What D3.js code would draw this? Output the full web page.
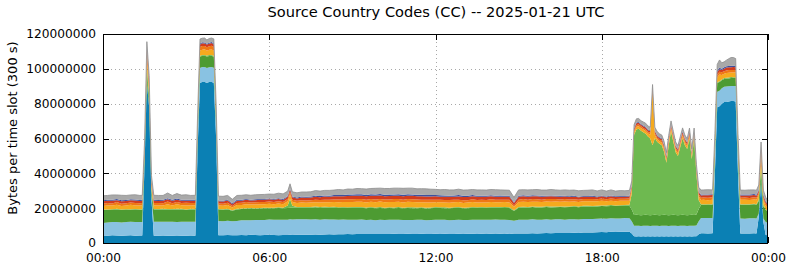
<!DOCTYPE html>
<html>
<head>
<meta charset="utf-8">
<script src="https://cdn.jsdelivr.net/npm/d3@7"></script>
<style>
  body { margin: 0; background: #fff; }
  svg { display: block; }
  text { font-family: "DejaVu Sans", sans-serif; }
</style>
</head>
<body>
<svg id="chart" width="790" height="267"></svg>
<script>
// time of each sample, minutes after 00:00 UTC
const slotMinutes = [
  0,10,20,30,40,50,60,70,80,
  85,90,95,100,105,110,
  120,130,140,150,160,170,180,190,200,
  205,210,215,220,225,230,235,240,245,250,
  260,270,280,290,300,310,320,330,340,350,360,370,380,390,
  400,405,410,
  420,430,440,450,460,470,480,490,500,510,
  520,530,540,550,560,570,580,590,600,610,
  620,630,640,650,660,670,680,690,700,710,
  720,730,740,750,760,770,780,790,800,810,
  820,830,840,850,860,870,880,890,900,910,
  920,930,940,950,960,970,980,990,1000,1010,
  1020,1030,1040,1050,1060,1070,1080,1090,1100,1110,
  1120,1130,1140,
  1145,1150,1155,1160,1165,1170,1175,1180,1185,1190,1195,1200,1205,1210,1215,
  1220,1225,1230,1235,1240,1245,1250,1255,1260,1265,1270,1275,1280,1285,1290,1295,
  1300,1310,1320,
  1325,1330,1335,1340,1345,1350,1355,1360,1365,1370,1375,
  1380,1390,1400,1410,1415,
  1420,1425,1430,1435,1440
];

// bytes per slot, in millions, bottom layer first
const ccDarkBlue = [
  4.3,4.2,4.4,4.3,4.2,4.3,4.4,4.2,4.3,
  4.3,45,92,78,25,4.2,
  4.2,4.3,4.1,4.2,4.3,4.2,4.1,4.3,4.2,
  55,92,92.5,92.5,92,92.5,92.5,92,60,4.4,
  4.5,4.6,4.5,4.4,4.6,4.5,4.7,4.6,4.5,4.6,4.7,4.6,4.5,4.6,
  4.6,4.7,4.6,
  4.7,4.8,4.7,4.8,4.9,4.8,4.9,5.0,4.9,5.0,
  5.0,5.1,5.0,5.1,5.2,5.1,5.2,5.1,5.2,5.2,
  5.2,5.3,5.2,5.2,5.3,5.2,5.2,5.3,5.2,5.2,
  5.3,5.2,5.3,5.2,5.2,5.3,5.2,5.3,5.3,5.2,
  5.3,5.4,5.3,5.4,5.3,5.4,5.2,5.4,5.5,5.4,
  5.5,5.6,5.5,5.6,5.7,5.6,5.7,5.8,5.7,5.8,
  5.9,5.8,6.0,6.1,6.0,6.2,6.3,6.2,6.4,6.3,
  6.4,6.5,6.5,
  5.5,3.9,3.8,3.9,3.8,3.9,3.8,3.9,3.8,3.9,3.8,3.9,3.8,3.9,3.8,
  3.9,3.8,3.9,3.8,3.9,3.8,3.9,3.8,3.9,3.8,3.9,3.8,3.9,3.9,5.0,5.6,
  5.6,5.5,5.6,
  40,78,78.5,80,81,81,81.2,81.5,81.5,81.3,40,
  5.5,5.4,5.5,5.6,5.5,
  15,35,12,4.6,4.5
];
const ccLightBlue = [
  7.2,7.5,7.6,7.8,7.6,7.7,7.8,7.9,7.8,
  7.8,2,1,1,2,8.0,
  8.0,7.9,8.1,8.0,7.8,8.0,8.1,7.9,8.0,
  6,8.5,8.5,8.6,8.5,8.4,8.5,8.6,6,8.2,
  8.0,8.2,8.0,8.3,8.4,8.5,8.4,8.6,8.7,8.6,8.8,8.7,8.9,8.8,
  8.8,8.9,8.9,
  8.9,8.8,8.9,8.7,8.8,8.6,8.7,8.5,8.6,8.4,
  8.5,8.3,8.4,8.2,8.3,8.1,8.2,8.0,8.1,8.0,
  8.1,8.0,8.1,8.0,7.9,8.0,8.1,8.0,7.9,8.0,
  8.0,8.1,8.0,7.9,8.0,8.1,8.0,7.9,8.0,8.1,
  8.0,7.9,8.0,8.1,8.0,7.9,8.0,7.4,7.9,8.0,
  7.9,8.0,7.9,7.8,7.9,7.8,7.9,7.8,7.7,7.8,
  7.8,7.7,7.8,7.7,7.8,7.7,7.8,7.7,7.8,7.7,
  7.7,7.8,7.7,
  7.0,6.0,6.1,6.0,5.9,6.0,6.1,6.0,5.9,6.0,6.1,6.0,5.9,6.0,6.1,
  6.0,5.9,6.0,6.1,6.0,5.9,6.0,6.1,6.0,5.9,6.0,6.1,6.0,6.1,7.5,8.7,
  8.7,8.8,8.7,
  8.5,8.8,8.9,8.8,8.7,8.8,8.8,8.7,8.7,8.8,8.5,
  8.6,8.5,8.7,8.6,8.5,
  2,1,2,7.5,7.0
];
const ccDarkGreen = [
  7.5,7.3,7.0,7.2,7.1,7.0,6.9,7.1,7.0,
  7.0,3,5,4,3,7.0,
  7.0,7.1,6.9,7.0,7.2,7.0,6.8,7.1,7.0,
  5,6.5,6.5,6.4,6.6,6.5,6.5,6.4,5,6.6,
  6.6,6.5,6.0,6.6,6.5,6.7,6.6,6.5,6.6,6.7,6.5,6.6,6.7,6.6,
  6.7,6.6,6.7,
  6.6,6.7,6.6,6.7,6.8,6.7,6.8,6.7,6.8,6.7,
  6.8,6.7,6.8,6.9,6.8,6.7,6.8,6.9,6.8,6.7,
  6.8,6.7,6.8,6.7,6.9,6.8,6.7,6.8,6.7,6.8,
  6.9,6.8,6.7,6.8,6.9,6.8,6.7,6.8,6.9,6.8,
  6.9,6.8,6.9,6.8,6.9,6.8,6.9,5.6,6.8,7.0,
  6.9,7.0,6.9,7.0,7.1,7.0,6.9,7.0,7.1,7.0,
  7.1,7.0,7.1,7.2,7.1,7.0,7.1,7.2,7.1,7.2,
  7.2,7.1,7.2,
  6.8,6.2,6.3,6.2,6.3,6.2,6.3,6.2,6.3,6.2,6.3,6.2,6.3,6.2,6.3,
  6.2,6.3,6.2,6.3,6.2,6.3,6.2,6.3,6.2,6.3,6.2,6.3,6.2,6.3,7.0,7.5,
  7.6,7.5,7.6,
  5.5,5.0,5.0,4.6,4.5,4.6,4.5,4.6,4.5,4.6,5.5,
  7.9,8.0,7.8,8.0,7.9,
  7,6,7,7,6.5
];
const ccLightGreen = [
  0.3,0.3,0.4,0.3,0.3,0.4,0.3,0.3,0.3,
  0.3,1,3,2,1,0.3,
  0.3,0.3,0.4,0.3,0.3,0.4,0.3,0.3,0.3,
  0.4,0.5,0.5,0.5,0.5,0.5,0.5,0.5,0.4,0.3,
  0.3,0.3,0.3,0.4,0.3,0.3,0.4,0.3,0.3,0.4,0.3,0.3,0.4,0.3,
  1.5,5.0,1.2,
  0.4,0.4,0.5,0.4,0.4,0.5,0.4,0.4,0.5,0.4,
  0.4,0.4,0.5,0.4,0.4,0.5,0.4,0.4,0.5,0.4,
  0.4,0.4,0.5,0.4,0.4,0.5,0.4,0.4,0.5,0.4,
  0.4,0.4,0.5,0.4,0.4,0.5,0.4,0.4,0.5,0.4,
  0.4,0.4,0.5,0.4,0.4,0.5,0.4,0.4,0.5,0.4,
  0.4,0.4,0.5,0.4,0.4,0.5,0.4,0.4,0.5,0.4,
  0.4,0.4,0.5,0.4,0.4,0.5,0.4,0.4,0.5,0.4,
  0.4,0.4,0.5,
  9,46,49,49.5,48.5,47.5,46.5,45,44,40,44,42,41,40,36,
  30,40,48,42,36,34,39,44,40,38,44,32,44,23,5,0.4,
  0.4,0.4,0.4,
  0.4,0.5,0.5,0.5,0.5,0.5,0.5,0.5,0.5,0.5,0.4,
  0.3,0.3,0.3,0.3,0.3,
  1,3,1,0.3,0.3
];
const ccYellow = [
  2.0,2.3,2.1,2.4,2.0,2.2,2.5,2.1,2.2,
  2.2,2,5,4,2,2.1,
  2.1,2.0,2.8,2.0,2.6,2.1,2.3,2.0,2.2,
  2.5,3,3,3.2,2.8,3,3.1,3,2.5,2.0,
  2.0,2.2,1.6,2.1,2.0,2.3,2.0,2.1,2.2,2.0,2.3,2.1,2.2,2.0,
  2.3,2.8,2.2,
  2.3,2.5,2.4,2.6,2.5,2.7,2.6,2.8,2.7,2.9,
  2.8,3.0,2.9,3.1,3.0,2.9,3.1,3.0,3.2,3.1,
  3.0,3.2,3.1,3.0,3.2,3.1,3.0,2.9,3.0,2.9,
  2.8,2.9,2.7,2.8,2.9,2.8,2.7,2.8,2.9,2.8,
  2.7,2.8,2.9,2.7,2.8,2.9,2.8,1.8,2.8,2.9,
  2.8,2.7,2.9,2.8,2.7,2.8,2.9,2.7,2.8,2.7,
  2.6,2.7,2.5,2.6,2.7,2.5,2.6,2.4,2.5,2.4,
  2.5,2.4,2.4,
  2.2,1.4,1.6,1.5,1.4,1.5,1.6,1.7,2.2,30.5,1.8,1.5,1.4,1.5,1.6,
  1.4,1.5,1.6,1.4,1.5,1.6,1.5,1.4,1.5,1.6,1.5,1.4,1.5,1.5,2.2,2.5,
  2.5,2.4,2.6,
  2.5,2.8,3.8,2.6,2.5,2.7,2.8,2.6,2.7,2.8,2.5,
  2.5,2.6,2.4,2.5,2.6,
  2.6,5,2.6,2.0,1.5
];
const ccOrange = [
  1.3,1.4,1.2,1.5,1.3,1.2,1.4,1.3,1.2,
  1.3,1.5,3,2,1.5,1.3,
  1.3,1.2,1.5,1.3,1.4,1.2,1.5,1.3,1.3,
  1.5,2,2.1,1.9,2,2,2.1,2,1.5,1.2,
  1.2,1.3,0.9,1.2,1.3,1.2,1.1,1.3,1.2,1.3,1.2,1.3,1.2,1.2,
  1.3,1.5,1.3,
  1.3,1.4,1.3,1.4,1.5,1.4,1.5,1.4,1.5,1.6,
  1.5,1.6,1.5,1.6,1.5,1.6,1.5,1.6,1.5,1.6,
  1.5,1.6,1.5,1.5,1.6,1.5,1.6,1.5,1.5,1.6,
  1.5,1.4,1.5,1.6,1.5,1.4,1.5,1.4,1.5,1.4,
  1.5,1.4,1.5,1.4,1.5,1.4,1.5,1.0,1.4,1.5,
  1.4,1.5,1.4,1.3,1.4,1.5,1.4,1.3,1.4,1.3,
  1.3,1.2,1.3,1.2,1.3,1.2,1.3,1.2,1.3,1.2,
  1.2,1.2,1.2,
  1.2,1.0,0.9,1.0,1.1,1.0,0.9,1.0,1.1,1.5,1.0,0.9,1.0,1.1,1.0,
  0.9,1.0,1.1,1.0,0.9,1.0,1.1,1.0,0.9,1.0,1.1,1.0,0.9,1.0,1.2,1.3,
  1.3,1.4,1.3,
  1.3,1.5,1.6,1.5,1.4,1.5,1.6,1.5,1.5,1.4,1.3,
  1.2,1.3,1.2,1.3,1.2,
  1.3,3,1.3,1.1,1.0
];
const ccRed = [
  1.3,1.2,1.5,1.1,1.4,1.3,1.2,1.5,1.3,
  1.3,1.2,2,1.5,1.2,1.3,
  1.2,1.4,1.3,1.5,1.3,1.4,1.2,1.3,1.2,
  1.3,1.5,1.6,1.4,1.5,1.5,1.6,1.5,1.3,1.2,
  1.2,1.3,1.0,1.3,1.2,1.3,1.2,1.2,1.3,1.2,1.3,1.2,1.3,1.2,
  1.3,1.4,1.3,
  1.4,1.5,1.6,1.5,1.7,1.6,1.8,1.7,1.8,1.9,
  1.8,1.9,2.0,1.9,2.0,1.9,2.0,2.1,2.0,1.9,
  2.0,1.9,2.0,2.1,1.9,2.0,1.9,2.0,1.9,1.8,
  1.9,1.8,1.9,1.8,1.7,1.8,1.9,1.8,1.7,1.8,
  1.7,1.8,1.7,1.8,1.7,1.6,1.7,1.3,1.7,1.6,
  1.7,1.6,1.7,1.6,1.5,1.6,1.5,1.6,1.5,1.4,
  1.5,1.4,1.3,1.4,1.3,1.2,1.3,1.2,1.3,1.2,
  1.2,1.2,1.2,
  1.1,1.0,1.1,1.0,0.9,1.0,1.1,1.0,0.9,1.0,1.1,1.0,0.9,1.0,1.1,
  1.0,0.9,1.0,1.1,1.0,0.9,1.0,1.1,1.0,0.9,1.0,1.1,1.0,1.0,1.2,1.3,
  1.3,1.4,1.3,
  1.3,1.6,1.5,1.4,1.5,1.6,1.5,1.5,1.6,1.5,1.3,
  1.3,1.2,1.4,1.3,1.2,
  1.3,2,1.3,1.1,1.0
];
const ccNavy = [
  0.6,0.6,0.6,0.6,0.6,0.6,0.6,0.6,0.6,
  0.6,0.5,0.6,0.5,0.5,0.6,
  0.6,0.6,0.6,0.6,0.6,0.6,0.6,0.6,0.6,
  0.5,0.6,0.6,0.6,0.5,0.6,0.6,0.6,0.5,0.5,
  0.5,0.5,0.5,0.5,0.5,0.5,0.5,0.5,0.5,0.5,0.5,0.5,0.5,0.5,
  0.5,0.5,0.5,
  0.5,0.6,0.5,0.6,0.6,0.7,0.6,0.7,0.7,0.7,
  0.7,0.8,0.7,0.8,0.8,0.8,0.8,0.8,0.8,0.8,
  0.8,0.8,0.8,0.8,0.8,0.8,0.8,0.8,0.8,0.8,
  0.7,0.8,0.7,0.7,0.7,0.8,0.7,0.7,0.7,0.7,
  0.6,0.7,0.6,0.6,0.7,0.6,0.6,0.5,0.6,0.6,
  0.6,0.6,0.5,0.6,0.5,0.5,0.5,0.5,0.5,0.5,
  0.5,0.4,0.5,0.4,0.5,0.4,0.4,0.4,0.4,0.4,
  0.4,0.4,0.4,
  0.4,0.4,0.4,0.4,0.4,0.4,0.4,0.4,0.4,0.4,0.4,0.4,0.4,0.4,0.4,
  0.4,0.4,0.4,0.4,0.4,0.4,0.4,0.4,0.4,0.4,0.4,0.4,0.4,0.4,0.4,0.5,
  0.5,0.5,0.5,
  0.5,0.8,0.8,0.7,0.8,0.8,0.7,0.8,0.8,0.7,0.5,
  0.5,0.5,0.5,0.5,0.5,
  0.5,0.5,0.5,0.5,0.5
];
const ccGray = [
  2.6,2.5,2.8,2.4,2.9,2.6,2.5,2.7,2.6,
  2.6,2.5,4,3,2.5,2.6,
  2.6,2.5,3.0,2.4,2.9,2.6,2.8,2.5,2.6,
  2.5,2.5,2.3,2.6,2.2,2.4,2.3,2.6,2.5,2.5,
  2.5,2.4,2.3,2.5,2.6,2.4,2.5,2.6,2.5,2.6,2.5,2.7,2.9,3.0,
  2.8,2.6,2.7,
  2.7,2.6,2.8,2.7,2.9,2.8,2.9,3.0,2.9,3.1,
  3.0,3.2,3.1,3.3,3.2,3.4,3.3,3.5,3.4,3.6,
  3.5,3.6,3.5,3.7,3.5,3.6,3.4,3.5,3.6,3.4,
  3.3,3.2,3.4,3.3,3.2,3.4,3.3,3.4,3.2,3.3,
  3.4,3.2,3.3,3.4,3.2,3.3,3.2,2.8,3.3,3.2,
  3.3,3.2,3.4,3.3,3.2,3.4,3.3,3.2,3.3,3.4,
  3.3,3.4,3.2,3.3,3.4,3.2,3.3,3.1,3.2,3.0,
  3.1,3.0,3.1,
  2.4,2.0,2.1,2.0,1.9,2.0,2.1,2.0,1.9,1.5,2.0,2.1,2.0,1.9,2.0,
  2.1,2.0,1.9,2.0,2.1,2.0,1.9,2.0,2.1,2.0,1.9,2.0,2.1,2.0,2.5,2.6,
  2.6,2.7,2.5,
  3.0,3.5,4.5,3.4,3.1,3.5,4.2,4.8,4.7,4.3,3.0,
  2.6,2.5,2.7,2.4,2.6,
  2.6,2.5,2.6,2.2,2.0
];

const layerKeys = ["ccDarkBlue","ccLightBlue","ccDarkGreen","ccLightGreen","ccYellow","ccOrange","ccRed","ccNavy","ccGray"];
const layerValues = [ccDarkBlue,ccLightBlue,ccDarkGreen,ccLightGreen,ccYellow,ccOrange,ccRed,ccNavy,ccGray];
const layerColors = ["#0b80b4","#89c2e2","#4d9b32","#6eb950","#f5aa1e","#ef7814","#d23c1e","#3c50a0","#a9a9a9"];

const yTicks = [0,20000000,40000000,60000000,80000000,100000000,120000000];
const xTicks = [0,360,720,1080,1440];
const xTickLabels = ["00:00","06:00","12:00","18:00","00:00"];

const svg = d3.select("#chart");
const plotLeft = 103, plotRight = 768, plotTop = 34, plotBottom = 243;

const x = d3.scaleLinear().domain([0, 1440]).range([plotLeft, plotRight]);
const y = d3.scaleLinear().domain([0, 120000000]).range([plotBottom, plotTop]);

const rows = slotMinutes.map((t, i) => {
  const r = { t: t };
  layerKeys.forEach((k, j) => { r[k] = layerValues[j][i] * 1e6; });
  return r;
});

const series = d3.stack().keys(layerKeys)(rows);

// dotted grid
svg.append("g").selectAll("line")
  .data(yTicks.slice(1, -1)).enter().append("line")
  .attr("x1", plotLeft).attr("x2", plotRight)
  .attr("y1", d => Math.round(y(d)) + 0.5).attr("y2", d => Math.round(y(d)) + 0.5)
  .attr("stroke", "#a8a8a8").attr("stroke-dasharray", "1,3");
svg.append("g").selectAll("line")
  .data(xTicks.slice(1, -1)).enter().append("line")
  .attr("y1", plotTop).attr("y2", plotBottom)
  .attr("x1", d => Math.round(x(d)) + 0.5).attr("x2", d => Math.round(x(d)) + 0.5)
  .attr("stroke", "#a8a8a8").attr("stroke-dasharray", "1,3");

// inward ticks on all four sides
const ticks = svg.append("g").attr("stroke", "#000");
yTicks.forEach(v => {
  const yy = Math.round(y(v)) + 0.5;
  ticks.append("line").attr("x1", plotLeft).attr("x2", plotLeft + 6).attr("y1", yy).attr("y2", yy);
  ticks.append("line").attr("x1", plotRight - 6).attr("x2", plotRight).attr("y1", yy).attr("y2", yy);
});
xTicks.forEach(v => {
  const xx = Math.round(x(v)) + 0.5;
  ticks.append("line").attr("x1", xx).attr("x2", xx).attr("y1", plotTop).attr("y2", plotTop + 6);
  ticks.append("line").attr("x1", xx).attr("x2", xx).attr("y1", plotBottom - 6).attr("y2", plotBottom);
});

const area = d3.area()
  .x(d => x(d.data.t))
  .y0(d => y(d[0]))
  .y1(d => y(d[1]));

svg.append("g").selectAll("path")
  .data(series).enter().append("path")
  .attr("fill", (d, i) => layerColors[i])
  .attr("d", area);

// darker edge on top of the stack
svg.append("path")
  .datum(series[series.length - 1])
  .attr("fill", "none")
  .attr("stroke", "#8e8e8e")
  .attr("stroke-width", 0.8)
  .attr("d", d3.line().x(d => x(d.data.t)).y(d => y(d[1])));

// frame
svg.append("rect")
  .attr("x", plotLeft + 0.5).attr("y", plotTop + 0.5)
  .attr("width", plotRight - plotLeft - 1).attr("height", plotBottom - plotTop)
  .attr("fill", "none").attr("stroke", "#000");

// axis labels
const yAxis = d3.axisLeft(y).tickValues(yTicks).tickFormat(d3.format("d"))
  .tickSize(0).tickPadding(7);
svg.append("g").attr("transform", `translate(${plotLeft},0)`).call(yAxis)
  .call(g => g.select(".domain").remove())
  .selectAll("text").attr("font-size", 12.2).attr("font-family", "DejaVu Sans").attr("fill", "#000");

const xAxis = d3.axisBottom(x).tickValues(xTicks).tickFormat((d, i) => xTickLabels[i])
  .tickSize(0).tickPadding(10);
svg.append("g").attr("transform", `translate(0,${plotBottom})`).call(xAxis)
  .call(g => g.select(".domain").remove())
  .selectAll("text").attr("font-size", 12.2).attr("font-family", "DejaVu Sans").attr("fill", "#000");

svg.append("text")
  .attr("x", 436).attr("y", 17)
  .attr("text-anchor", "middle").attr("font-size", 14.6)
  .text("Source Country Codes (CC) -- 2025-01-21 UTC");

svg.append("text")
  .attr("transform", "translate(16.5,128) rotate(-90)")
  .attr("text-anchor", "middle").attr("font-size", 13)
  .text("Bytes per time slot (300 s)");
</script>
</body>
</html>
